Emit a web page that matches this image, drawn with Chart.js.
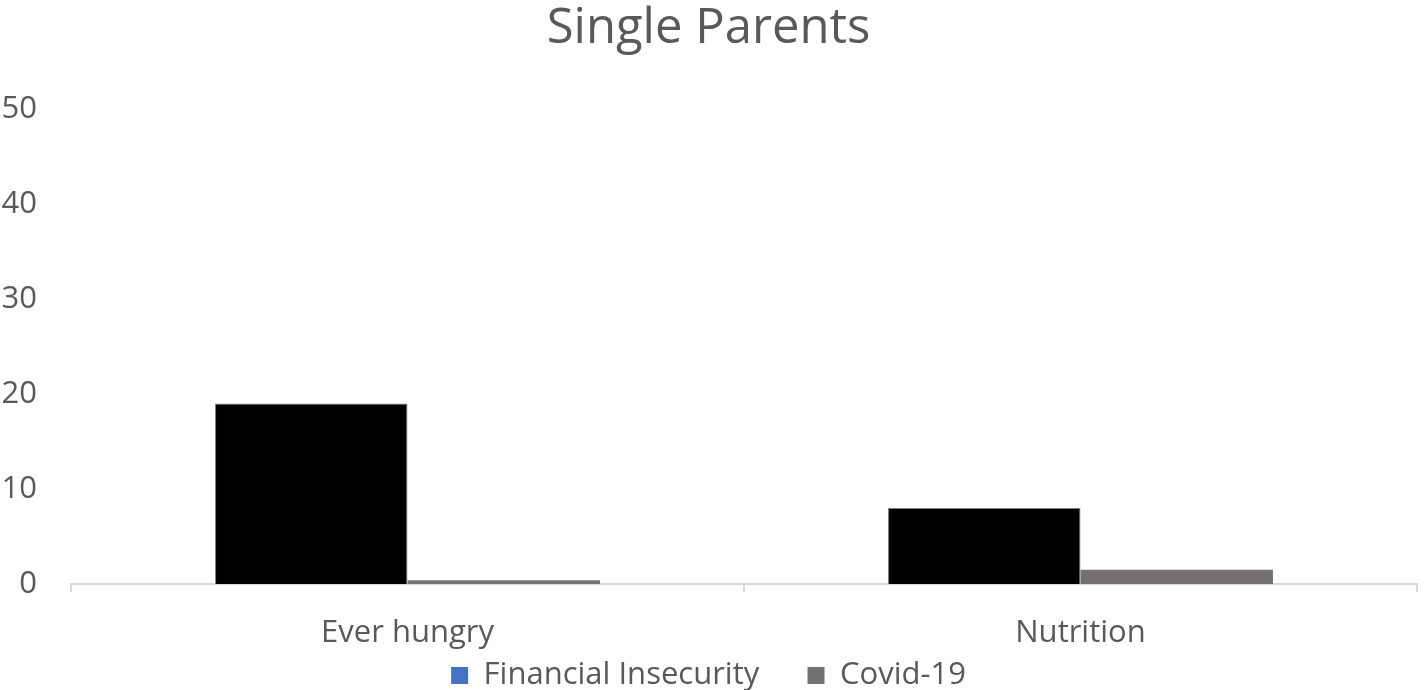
<!DOCTYPE html>
<html>
<head>
<meta charset="utf-8">
<script src="https://cdn.jsdelivr.net/npm/chart.js@4"></script>
<style>
  html, body { margin: 0; padding: 0; background: #fff; }
  #wrap { width: 1424px; height: 690px; }
</style>
</head>
<body>
<div id="wrap"><canvas id="chart" width="1424" height="690"></canvas></div>
<script>
// dados
const categories = ['Ever hungry', 'Nutrition'];
const seriesNames = ['Financial Insecurity', 'Covid-19'];
const financialInsecurity = [19, 8];
const covid19 = [0.4, 1.5];
const yTicks = [0, 10, 20, 30, 40, 50];

const textColor = '#595959';
const fontFamily = '"Open Sans", Lato, sans-serif';
// a legenda do original mostra azul para a primeira série, embora as barras sejam pretas
const legendColors = ['#4472C4', '#767171'];

const ctx = document.getElementById('chart').getContext('2d');

new Chart(ctx, {
    type: 'bar',
    data: {
        labels: categories,
        datasets: [{
            label: seriesNames[0],
            data: financialInsecurity,
            backgroundColor: '#000000',
            borderColor: '#7f7f7f',
            borderWidth: 1,
            categoryPercentage: 0.572,
            barPercentage: 1
        }, {
            label: seriesNames[1],
            data: covid19,
            backgroundColor: '#767171',
            borderWidth: 0,
            categoryPercentage: 0.572,
            barPercentage: 1
        }]
    },
    options: {
        responsive: false,
        animation: false,
        // padding negativo em baixo para descer a legenda
        layout: { padding: { left: 0, right: 7, top: 0, bottom: -11 } },
        scales: {
            x: {
                grid: {
                    offset: true,
                    drawOnChartArea: false,
                    color: '#d9d9d9',
                    lineWidth: 2,
                    tickLength: 8
                },
                border: { color: '#d9d9d9', width: 2 },
                ticks: {
                    color: textColor,
                    font: { family: fontFamily, size: 31 },
                    padding: 23,
                    autoSkip: false,
                    maxRotation: 0
                },
                afterFit: scale => { scale.height = 68; }
            },
            y: {
                min: 0,
                max: 50,
                afterBuildTicks: scale => { scale.ticks = yTicks.map(v => ({ value: v })); },
                grid: { display: false, drawTicks: false },
                border: { display: false },
                ticks: {
                    color: textColor,
                    font: { family: fontFamily, size: 31 },
                    padding: 34
                },
                afterFit: scale => { scale.width = 71; }
            }
        },
        plugins: {
            title: {
                display: true,
                text: 'Single Parents',
                color: textColor,
                font: { family: fontFamily, size: 49, weight: 'normal' },
                padding: { top: 0, bottom: 50 }
            },
            legend: {
                position: 'bottom',
                labels: {
                    color: textColor,
                    font: { family: fontFamily, size: 31 },
                    boxWidth: 17,
                    boxHeight: 17,
                    padding: 8,
                    // espaços no fim para afastar os dois itens como no original
                    generateLabels: chart => chart.data.datasets.map((ds, i) => ({
                        text: i === 0 ? ds.label + '     ' : ds.label,
                        fillStyle: legendColors[i],
                        strokeStyle: legendColors[i],
                        lineWidth: 0,
                        fontColor: textColor,
                        datasetIndex: i
                    }))
                }
            },
            tooltip: { enabled: false }
        }
    }
});
</script>
</body>
</html>
